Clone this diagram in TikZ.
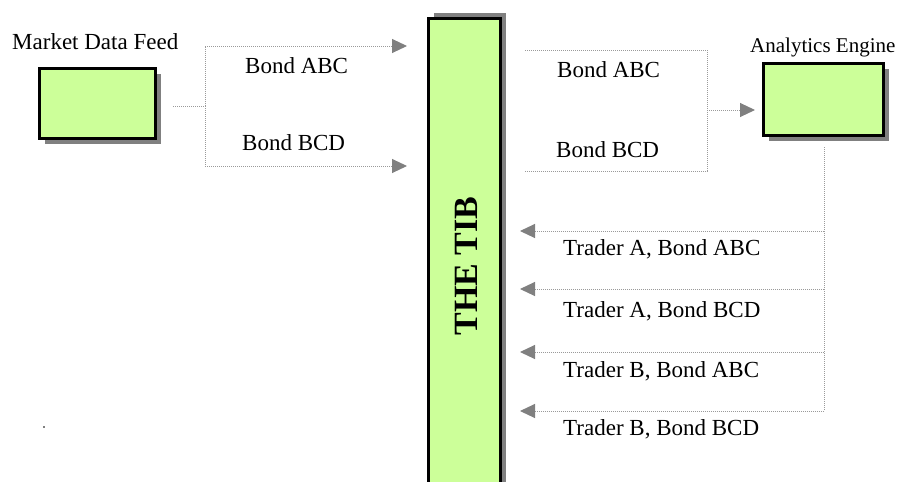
\documentclass[tikz,border=0pt]{standalone}
\usepackage{fontspec}
\setmainfont{Liberation Serif}
\usetikzlibrary{arrows.meta,shadows}
\definecolor{boxgreen}{HTML}{CCFF99}
\definecolor{shadowgray}{HTML}{808080}
\definecolor{dotgray}{HTML}{9A9A9A}
\tikzset{
  box/.style={draw=black, line width=3pt, fill=boxgreen, inner sep=0pt},
  boxshadow/.style={drop shadow={shadow xshift=5pt, shadow yshift=-5pt, fill=shadowgray, opacity=1}},
  barshadow/.style={drop shadow={shadow xshift=5pt, shadow yshift=5pt, fill=shadowgray, opacity=1}},
  dotline/.style={draw=dotgray, line width=1pt, dash pattern=on 1pt off 1pt},
  arr/.style={-{Triangle[length=15pt,width=14pt,fill=shadowgray,color=shadowgray]}},
  lbl/.style={inner sep=0pt, anchor=base west, font=\fontsize{23}{27}\selectfont},
}
\begin{document}
\begin{tikzpicture}[x=1pt,y=-1pt]
\useasboundingbox (0,0) rectangle (898,482);
\clip (0,0) rectangle (898,482);
\fill[white] (0,0) rectangle (898,482);
% boxes
\node[box, boxshadow, minimum width=116pt, minimum height=70pt] (mdf) at (97.5,103.5) {};
\node[box, boxshadow, minimum width=120pt, minimum height=72pt] (ae) at (823.5,99.5) {};
\node[box, barshadow, minimum width=72pt, minimum height=500pt, anchor=north] (tib) at (464.5,16.5) {};
\node[rotate=90, font=\fontsize{34}{40}\selectfont\bfseries, inner sep=0pt] (tibtxt) at (466,266) {THE TIB};
% titles
\node[lbl] (mdflbl) at (12,49.5) {Market Data Feed};
\node[lbl, font=\fontsize{21}{25}\selectfont] (aelbl) at (750,52) {Analytics Engine};
% left connectors
\coordinate (m0) at (173,106);
\coordinate (j1) at (205,106);
\coordinate (a1) at (407,46);
\coordinate (a2) at (407,166);
\draw[dotline] (m0) -- (j1);
\draw[dotline, arr] (j1) |- (a1);
\draw[dotline, arr] (j1) |- (a2);
\node[lbl] (l1) at (245,73.5) {Bond ABC};
\node[lbl] (l2) at (242,150) {Bond BCD};
% right bracket to analytics
\coordinate (b1) at (525,50);
\coordinate (b2) at (525,171);
\coordinate (j2) at (707,110);
\coordinate (ain) at (755,110);
\draw[dotline] (b1) -| (j2) |- (b2);
\draw[dotline, arr] (j2) -- (ain);
\node[lbl] (r1) at (557,77) {Bond ABC};
\node[lbl] (r2) at (556,157) {Bond BCD};
% trader feeds
\coordinate (v0) at (824,147);
\coordinate (v1) at (824,231);
\coordinate (v2) at (824,289);
\coordinate (v3) at (824,352);
\coordinate (v4) at (824,411);
\coordinate (t1) at (520,231);
\coordinate (t2) at (520,289);
\coordinate (t3) at (520,352);
\coordinate (t4) at (520,411);
\draw[dotline] (v0) -- (v4);
\draw[dotline, arr] (v1) -- (t1);
\draw[dotline, arr] (v2) -- (t2);
\draw[dotline, arr] (v3) -- (t3);
\draw[dotline, arr] (v4) -- (t4);
\node[lbl] (tr1) at (563,255) {Trader A, Bond ABC};
\node[lbl] (tr2) at (563,317) {Trader A, Bond BCD};
\node[lbl] (tr3) at (563,377) {Trader B, Bond ABC};
\node[lbl] (tr4) at (563,435) {Trader B, Bond BCD};
% stray dot
\fill[shadowgray] (43,426) rectangle (45,428);
\end{tikzpicture}
\end{document}
